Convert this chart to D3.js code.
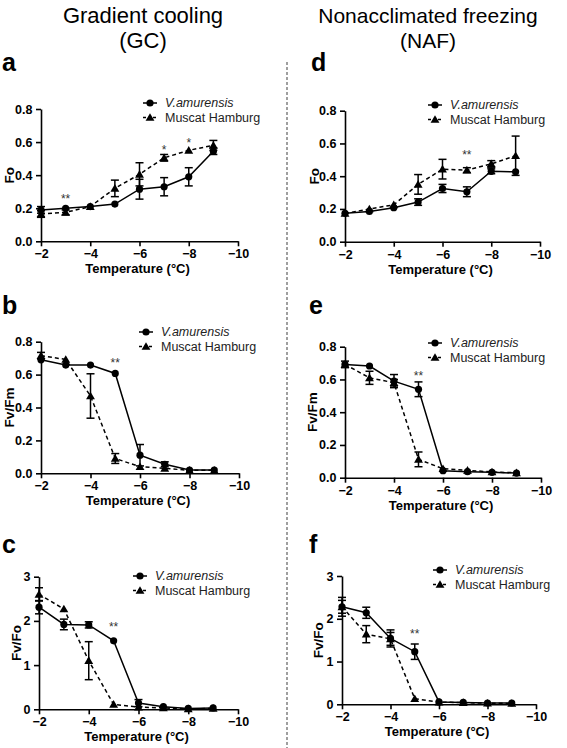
<!DOCTYPE html>
<html><head><meta charset="utf-8">
<script src="https://cdn.jsdelivr.net/npm/d3@7"></script>
<style>body{margin:0;background:#fff}svg{display:block;font-family:Arial,"Liberation Sans",sans-serif}</style>
</head><body>
<svg id="c" width="567" height="748"></svg>
<script>
const temps = [-2,-3,-4,-5,-6,-7,-8,-9];
const xTicks = [-2,-4,-6,-8,-10];
const seriesNames = ["V.amurensis","Muscat Hamburg"];

// Panel a: Fo, gradient cooling
const aVA = [0.19,0.20,0.21,0.225,0.315,0.33,0.39,0.545];
const aVAerr = [0.02,0.01,0.01,0.01,0.06,0.055,0.055,0.02];
const aMH = [0.165,0.175,0.21,0.32,0.405,0.505,0.55,0.58];
const aMHerr = [0.02,0.015,0.01,0.05,0.07,0.02,0.012,0.03];
// Panel d: Fo, NAF
const dVA = [0.173,0.185,0.208,0.242,0.325,0.305,0.43,0.427];
const dVAerr = [0.01,0.01,0.01,0.02,0.025,0.03,0.015,0.01];
const dMH = [0.173,0.20,0.225,0.35,0.443,0.437,0.475,0.525];
const dMHerr = [0.01,0.01,0.01,0.06,0.06,0.015,0.02,0.12];
// Panel b: Fv/Fm, GC
const bVA = [0.69,0.658,0.658,0.607,0.11,0.055,0.02,0.02];
const bVAerr = [0.01,0.01,0.01,0.008,0.065,0.015,0.005,0.005];
const bMH = [0.715,0.692,0.47,0.09,0.04,0.03,0.018,0.018];
const bMHerr = [0.02,0.01,0.135,0.03,0.01,0.01,0.005,0.005];
// Panel e: Fv/Fm, NAF
const eVA = [0.692,0.682,0.59,0.54,0.043,0.037,0.033,0.028];
const eVAerr = [0.01,0.01,0.04,0.045,0.008,0.006,0.005,0.005];
const eMH = [0.692,0.61,0.58,0.112,0.055,0.045,0.035,0.03];
const eMHerr = [0.02,0.04,0.02,0.045,0.01,0.006,0.005,0.005];
// Panel c: Fv/Fo, GC
const cVA = [2.31,1.92,1.91,1.55,0.14,0.06,0.02,0.03];
const cVAerr = [0.15,0.12,0.07,0.02,0.08,0.03,0.02,0.02];
const cMH = [2.6,2.27,1.1,0.11,0.05,0.03,0.01,0.02];
const cMHerr = [0.15,0.03,0.43,0.03,0.02,0.02,0.01,0.01];
// Panel f: Fv/Fo, NAF
const fVA = [2.28,2.14,1.54,1.23,0.055,0.045,0.03,0.03];
const fVAerr = [0.22,0.13,0.2,0.18,0.02,0.01,0.01,0.01];
const fMH = [2.28,1.64,1.53,0.13,0.05,0.04,0.025,0.02];
const fMHerr = [0.15,0.2,0.15,0.03,0.01,0.01,0.01,0.01];

const fvfmTicks = [0,0.2,0.4,0.6,0.8];
const fvfoTicks = [0,1,2,3];

// significance marks: [temperature, y-value, label]
const aStars = [[-3,0.28,"**"],[-7,0.58,"*"],[-8,0.62,"*"]];
const dStars = [[-7,0.555,"**"]];
const bStars = [[-5,0.70,"**"]];
const eStars = [[-5,0.65,"**"]];
const cStars = [[-5,1.96,"**"]];
const fStars = [[-5,1.74,"**"]];

const svg = d3.select("#c");

// headers
svg.append("text").attr("x",143).attr("y",23).attr("text-anchor","middle").attr("font-size",22).text("Gradient cooling");
svg.append("text").attr("x",143).attr("y",48).attr("text-anchor","middle").attr("font-size",22).text("(GC)");
svg.append("text").attr("x",428).attr("y",23).attr("text-anchor","middle").attr("font-size",21).text("Nonacclimated freezing");
svg.append("text").attr("x",428).attr("y",48).attr("text-anchor","middle").attr("font-size",21).text("(NAF)");

// divider
svg.append("line").attr("x1",287).attr("x2",287).attr("y1",62).attr("y2",748)
  .attr("stroke","#888").attr("stroke-width",1.6).attr("stroke-dasharray","3,2");

const panels = [
  {letter:"a", lx:2, ly:71, x0:41, x1:238, yT:109, yB:241.3, ticks:fvfmTicks, fmt:d3.format(".1f"), ylab:"Fo", ylx:9,
   va:aVA, vaE:aVAerr, mh:aMH, mhE:aMHerr, stars:aStars, leg:[143,103]},
  {letter:"d", lx:311, ly:71, x0:345, x1:540, yT:110.7, yB:241.7, ticks:fvfmTicks, fmt:d3.format(".1f"), ylab:"Fo", ylx:314,
   va:dVA, vaE:dVAerr, mh:dMH, mhE:dMHerr, stars:dStars, leg:[428,105]},
  {letter:"b", lx:2, ly:314, x0:41, x1:239, yT:341.7, yB:473.3, ticks:fvfmTicks, fmt:d3.format(".1f"), ylab:"Fv/Fm", ylx:9,
   va:bVA, vaE:bVAerr, mh:bMH, mhE:bMHerr, stars:bStars, leg:[139,332]},
  {letter:"e", lx:309, ly:314, x0:345, x1:541, yT:346.7, yB:477.7, ticks:fvfmTicks, fmt:d3.format(".1f"), ylab:"Fv/Fm", ylx:312,
   va:eVA, vaE:eVAerr, mh:eMH, mhE:eMHerr, stars:eStars, leg:[428,343]},
  {letter:"c", lx:2, ly:553, x0:39, x1:238, yT:576.7, yB:709.3, ticks:fvfoTicks, fmt:d3.format("d"), ylab:"Fv/Fo", ylx:16,
   va:cVA, vaE:cVAerr, mh:cMH, mhE:cMHerr, stars:cStars, leg:[133,576]},
  {letter:"f", lx:309, ly:553, x0:342, x1:536, yT:576, yB:704.3, ticks:fvfoTicks, fmt:d3.format("d"), ylab:"Fv/Fo", ylx:318,
   va:fVA, vaE:fVAerr, mh:fMH, mhE:fMHerr, stars:fStars, leg:[433,570]}
];

const tri = d3.symbol().type(d3.symbolTriangle).size(34);

function drawMarker(g, kind, x, y){
  if(kind===0) g.append("circle").attr("cx",x).attr("cy",y).attr("r",3.6).attr("fill","#000");
  else g.append("path").attr("d",tri()).attr("transform",`translate(${x},${y+0.8})`).attr("fill","#000");
}

panels.forEach(p=>{
  const g = svg.append("g");
  const x = d3.scaleLinear().domain([-2,-10]).range([p.x0,p.x1]);
  const y = d3.scaleLinear().domain([0,d3.max(p.ticks)]).range([p.yB,p.yT]);

  g.append("text").attr("x",p.lx).attr("y",p.ly).attr("font-size",25).attr("font-weight","bold").text(p.letter);

  const xa = g.append("g").attr("transform",`translate(0,${p.yB})`)
    .call(d3.axisBottom(x).tickValues(xTicks).tickSize(5).tickSizeOuter(0).tickFormat(d3.format("d")));
  const ya = g.append("g").attr("transform",`translate(${p.x0},0)`)
    .call(d3.axisLeft(y).tickValues(p.ticks).tickSize(5).tickSizeOuter(0).tickFormat(p.fmt));
  [xa,ya].forEach(a=>{
    a.selectAll("path,line").attr("stroke","#000").attr("stroke-width",1.6);
    a.selectAll("text").attr("font-size",12.5).attr("font-weight","bold").attr("fill","#000")
      .attr("font-family","Arial,'Liberation Sans',sans-serif");
  });
  ya.selectAll("text").attr("dx","-0.05em");

  g.append("text").attr("x",(p.x0+p.x1)/2-2).attr("y",p.yB+32).attr("text-anchor","middle")
    .attr("font-size",13).attr("font-weight","bold").text("Temperature  (°C)");
  g.append("text").attr("transform",`translate(${p.ylx},${(p.yT+p.yB)/2}) rotate(-90)`)
    .attr("text-anchor","middle").attr("dy","0.35em").attr("font-size",13.5).attr("font-weight","bold").text(p.ylab);

  const series = [{v:p.va,e:p.vaE,dash:null},{v:p.mh,e:p.mhE,dash:"4,3"}];
  series.forEach((s,k)=>{
    const line = d3.line().x((d,i)=>x(temps[i])).y(d=>y(d));
    g.append("path").attr("d",line(s.v)).attr("fill","none").attr("stroke","#000").attr("stroke-width",1.5)
      .attr("stroke-dasharray",s.dash);
    s.v.forEach((v,i)=>{
      const cx = x(temps[i]), lo = y(v - s.e[i]), hi = y(v + s.e[i]);
      if(s.e[i] > 0.015*d3.max(p.ticks)){
        g.append("line").attr("x1",cx).attr("x2",cx).attr("y1",lo).attr("y2",hi).attr("stroke","#000").attr("stroke-width",1.5);
        [lo,hi].forEach(yy=>g.append("line").attr("x1",cx-4).attr("x2",cx+4).attr("y1",yy).attr("y2",yy).attr("stroke","#000").attr("stroke-width",1.5));
      }
      drawMarker(g,k,cx,y(v));
    });
  });

  p.stars.forEach(s=>{
    g.append("text").attr("x",x(s[0])).attr("y",y(s[1])).attr("text-anchor","middle").attr("dy","0.7em")
      .attr("font-size",12).attr("fill","#333").text(s[2]);
  });

  // legend
  seriesNames.forEach((n,k)=>{
    const ly = p.leg[1] + k*14.5, lx = p.leg[0];
    g.append("line").attr("x1",lx).attr("x2",lx+14).attr("y1",ly).attr("y2",ly).attr("stroke","#000")
      .attr("stroke-width",1.5).attr("stroke-dasharray",k?"3,2":null);
    drawMarker(g,k,lx+7,ly);
    g.append("text").attr("x",lx+22).attr("y",ly).attr("dy","0.35em").attr("font-size",12.5)
      .attr("font-style",k?null:"italic").attr("fill","#222").text(n);
  });
});
</script>
</body></html>
